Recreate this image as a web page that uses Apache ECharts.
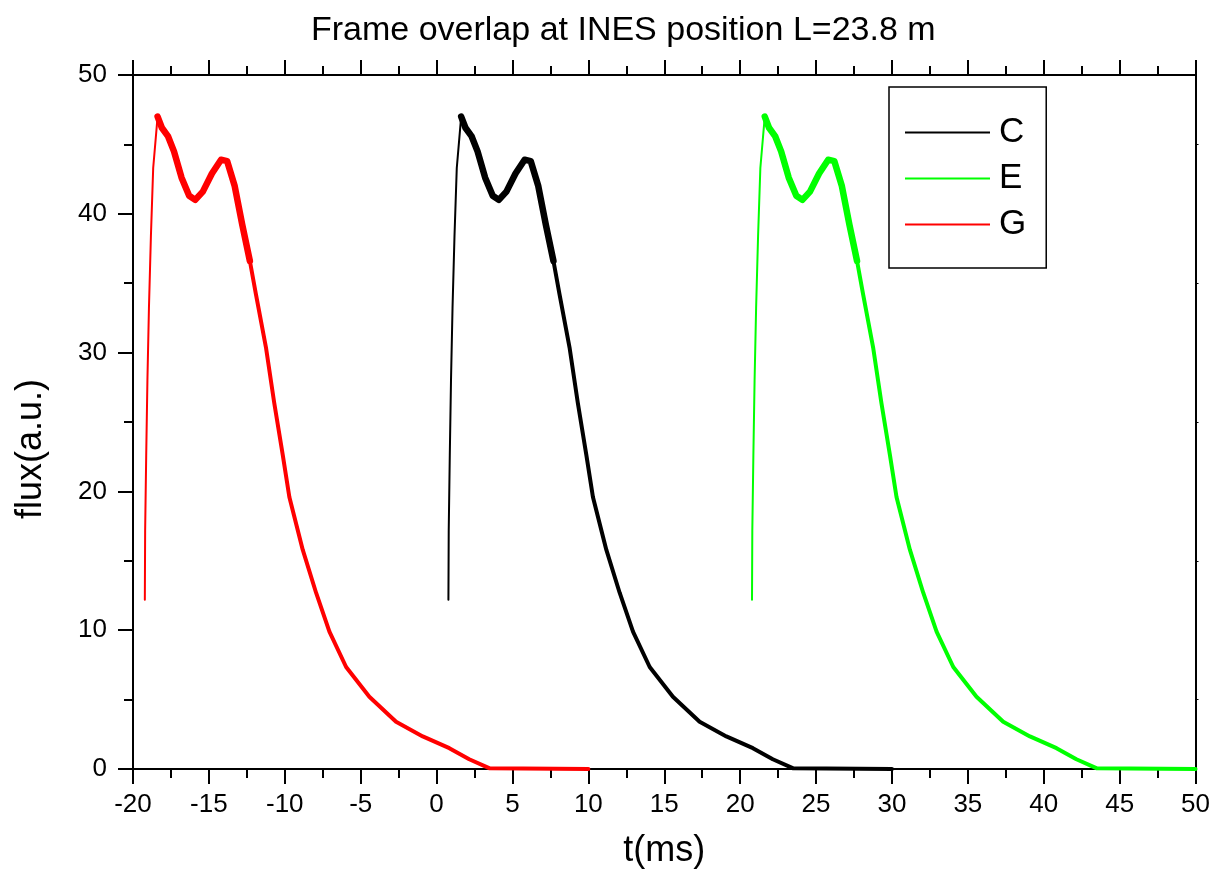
<!DOCTYPE html>
<html>
<head>
<meta charset="utf-8">
<script src="https://cdn.jsdelivr.net/npm/echarts@6/dist/echarts.min.js"></script>
<style>
html,body{margin:0;padding:0;background:#fff;}
#chart{width:1213px;height:884px;}
</style>
</head>
<body>
<div id="chart"></div>
<script>
// Flux values (same pulse shape for every frame)
const flux = [12.2, 17.2, 22.6, 28.0, 33.2, 38.4, 43.3, 47.0,
  46.2, 45.6, 44.5, 42.6, 41.3, 41.0, 41.6, 42.9, 43.9, 43.8, 42.0, 39.2,
  36.6, 34.2, 30.3, 26.4, 22.6, 19.6, 15.8, 12.7, 9.9, 7.35, 5.2, 3.4, 2.35, 1.5, 0.7, 0.05, 0, 0];
// Time stamps (ms) for each frame
const tC = [0.78, 0.80, 0.87, 0.95, 1.05, 1.18, 1.33, 1.62,
  1.9, 2.3, 2.7, 3.2, 3.7, 4.1, 4.6, 5.2, 5.8, 6.2, 6.7, 7.2,
  7.7, 8.1, 8.77, 9.3, 9.87, 10.3, 11.18, 12.06, 12.94, 14.04, 15.57, 17.33, 19.09, 20.84, 22.15, 23.5, 23.6, 30];
const tE = [20.78, 20.80, 20.87, 20.95, 21.05, 21.18, 21.33, 21.62,
  21.9, 22.3, 22.7, 23.2, 23.7, 24.1, 24.6, 25.2, 25.8, 26.2, 26.7, 27.2,
  27.7, 28.1, 28.77, 29.3, 29.87, 30.3, 31.18, 32.06, 32.94, 34.04, 35.57, 37.33, 39.09, 40.84, 42.15, 43.5, 43.6, 50];
const tG = [-19.22, -19.20, -19.13, -19.05, -18.95, -18.82, -18.67, -18.38,
  -18.1, -17.7, -17.3, -16.8, -16.3, -15.9, -15.4, -14.8, -14.2, -13.8, -13.3, -12.8,
  -12.3, -11.9, -11.23, -10.7, -10.13, -9.7, -8.82, -7.94, -7.06, -5.96, -4.43, -2.67, -0.91, 0.84, 2.15, 3.5, 3.6, 10];
const seriesNames = ['C', 'E', 'G'];
const seriesColors = ['#000000', '#00ff00', '#ff0000'];
const seriesTimes = [tC, tE, tG];
const xTicks = {min: -20, max: 50, step: 5};
const yTicks = {min: 0, max: 50, step: 10};

const FONT = 'Liberation Sans, Arial, sans-serif';
function pts(t, a, b) {
  const out = [];
  for (let i = a; i <= b; i++) out.push([t[i], flux[i]]);
  return out;
}
const series = [];
const segs = [[0, 7, 2], [7, 20, 6.5], [19, flux.length - 1, 4]];
seriesNames.forEach((n, k) => {
  segs.forEach(s => {
    series.push({
      name: n, type: 'line', symbol: 'none', animation: false,
      data: pts(seriesTimes[k], s[0], s[1]),
      lineStyle: {color: seriesColors[k], width: s[2], join: 'round', cap: 'round'},
      itemStyle: {color: seriesColors[k]},
      z: 3
    });
  });
});

const axisCommon = {
  axisLine: {show: true, onZero: false, lineStyle: {color: '#000', width: 2}},
  splitLine: {show: false},
  minorSplitLine: {show: false}
};

const chart = echarts.init(document.getElementById('chart'), null, {renderer: 'canvas'});
chart.setOption({
  animation: false,
  backgroundColor: '#fff',
  title: {
    text: 'Frame overlap at INES position L=23.8 m',
    left: 306, top: 9,
    textStyle: {fontFamily: FONT, fontSize: 34, fontWeight: 'normal', color: '#000'}
  },
  grid: {left: 133, right: 17, top: 75, bottom: 115, containLabel: false},
  legend: {
    orient: 'vertical', left: 889, top: 87,
    data: seriesNames,
    icon: 'rect',
    padding: [28, 20, 26, 16],
    itemWidth: 85, itemHeight: 2, itemGap: 11,
    borderColor: '#000', borderWidth: 1.5,
    textStyle: {fontFamily: FONT, fontSize: 35, color: '#000', padding: [0, 0, 0, 4]},
    selectedMode: false
  },
  xAxis: [
    Object.assign({
      type: 'value', min: xTicks.min, max: xTicks.max, interval: xTicks.step, position: 'bottom',
      axisTick: {show: true, inside: false, length: 15, lineStyle: {color: '#000', width: 2}},
      minorTick: {show: true, splitNumber: 2, length: 9, lineStyle: {color: '#000', width: 2}},
      axisLabel: {fontFamily: FONT, fontSize: 26, color: '#000', margin: 23},
      name: 't(ms)', nameLocation: 'middle', nameGap: 64,
      nameTextStyle: {fontFamily: FONT, fontSize: 36, color: '#000'}
    }, axisCommon),
    Object.assign({
      type: 'value', min: xTicks.min, max: xTicks.max, interval: xTicks.step, position: 'top',
      axisTick: {show: true, inside: false, length: 15, lineStyle: {color: '#000', width: 2}},
      minorTick: {show: true, splitNumber: 2, length: 9, lineStyle: {color: '#000', width: 2}},
      axisLabel: {show: false}
    }, axisCommon)
  ],
  yAxis: [
    Object.assign({
      type: 'value', min: yTicks.min, max: yTicks.max, interval: yTicks.step, position: 'left',
      axisTick: {show: true, inside: false, length: 15, lineStyle: {color: '#000', width: 2}},
      minorTick: {show: true, splitNumber: 2, length: 9, lineStyle: {color: '#000', width: 2}},
      axisLabel: {fontFamily: FONT, fontSize: 26, color: '#000', margin: 26},
      name: 'flux(a.u.)', nameLocation: 'middle', nameGap: 84, nameRotate: 90,
      nameTextStyle: {fontFamily: FONT, fontSize: 36, color: '#000', padding: [0, 54, 0, 0]}
    }, axisCommon),
    Object.assign({
      type: 'value', min: yTicks.min, max: yTicks.max, interval: yTicks.step, position: 'right',
      axisTick: {show: false},
      minorTick: {show: true, splitNumber: 2, length: 3, lineStyle: {color: '#000', width: 1}},
      axisLabel: {show: false}
    }, axisCommon)
  ],
  series: series
});
</script>
</body>
</html>
